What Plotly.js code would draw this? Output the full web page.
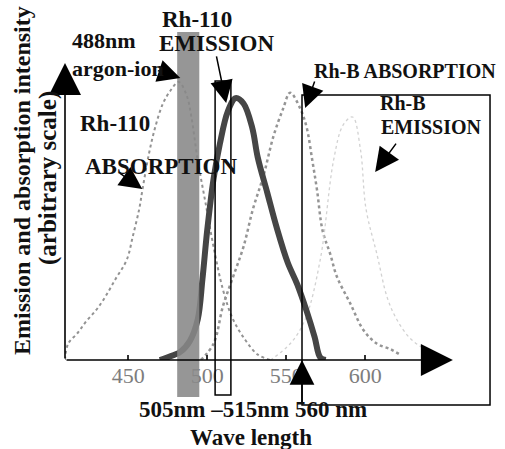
<!DOCTYPE html>
<html>
<head>
<meta charset="utf-8">
<script src="https://cdn.plot.ly/plotly-3.0.1.min.js"></script>
<style>
  html, body { margin: 0; padding: 0; background: #fff; }
  #chart { width: 505px; height: 449px; }
</style>
</head>
<body>
<div id="chart"></div>
<script>
// Wavelength axis ticks (nm)
const tickWavelengths = [450, 500, 550, 600];

// Rh-110 absorption spectrum (arbitrary units)
const rh110AbsNm  = [410, 412, 418, 423, 429, 434, 442, 449, 453, 457, 459, 463, 467, 472, 477, 482, 487, 490, 494, 499, 504, 510, 516, 524, 532, 540];
const rh110AbsVal = [0, 0.06, 0.10, 0.14, 0.18, 0.22, 0.30, 0.37, 0.46, 0.56, 0.63, 0.76, 0.86, 0.95, 1.00, 1.03, 0.98, 0.90, 0.74, 0.58, 0.42, 0.26, 0.155, 0.075, 0.02, 0];

// Rh-110 emission spectrum
const rh110EmNm  = [470, 475, 483, 489, 494, 497, 500, 504, 508, 513, 518, 523, 528.5, 532, 538, 544, 551, 557, 563, 568, 571.5, 575];
const rh110EmVal = [0, 0.01, 0.03, 0.07, 0.15, 0.30, 0.48, 0.67, 0.80, 0.92, 0.97, 0.95, 0.86, 0.75, 0.62, 0.49, 0.36, 0.28, 0.18, 0.085, 0.01, 0];

// Rhodamine B absorption spectrum
const rhBAbsNm  = [496, 504, 510, 516.5, 523, 529, 535.5, 542, 548, 552.5, 559, 563, 566.5, 569.5, 573, 578, 582, 590.5, 599, 607.5, 616, 622];
const rhBAbsVal = [0, 0.06, 0.20, 0.31, 0.42, 0.56, 0.68, 0.83, 0.93, 0.99, 0.93, 0.86, 0.74, 0.63, 0.48, 0.39, 0.31, 0.21, 0.11, 0.06, 0.04, 0.02];

// Rhodamine B emission spectrum
const rhBEmNm  = [540, 552.5, 562, 571.5, 580, 586, 592, 597, 600.5, 607.5, 614, 620, 628.5, 638, 650];
const rhBEmVal = [0, 0.06, 0.15, 0.37, 0.74, 0.87, 0.90, 0.78, 0.56, 0.39, 0.23, 0.15, 0.08, 0.04, 0.01];

// Excitation line and filter windows (nm)
const argonLineNm = 488;
const bandPassNm = [505, 515];
const longPassNm = 560;
const longPassEndNm = 679;

const SERIF = 'Liberation Serif, Times New Roman, serif';
const W = 505, H = 449;
const M = { l: 65, r: 10, t: 63, b: 89 };
const PW = W - M.l - M.r, PH = H - M.t - M.b;
const px = x => (x - M.l) / PW;         // page x -> paper
const py = y => (H - M.b - y) / PH;     // page y -> paper

function label(text, cx, cy, size, extra) {
  return Object.assign({
    xref: 'paper', yref: 'paper', x: px(cx), y: py(cy),
    xanchor: 'center', yanchor: 'middle', showarrow: false,
    text: '<b>' + text + '</b>',
    font: { family: SERIF, size: size, color: '#111' }
  }, extra || {});
}

function pointer(xNm, yVal, ax, ay, size) {
  return {
    xref: 'x', yref: 'y', x: xNm, y: yVal, ax: ax, ay: ay,
    text: '', showarrow: true, arrowhead: 2, arrowsize: size,
    arrowwidth: 1.5, arrowcolor: '#000'
  };
}

const traces = [
  { x: rh110AbsNm, y: rh110AbsVal, mode: 'lines', name: 'Rh-110 absorption',
    line: { color: '#939393', width: 2, dash: 'dot', shape: 'spline' } },
  { x: rhBAbsNm, y: rhBAbsVal, mode: 'lines', name: 'Rh-B absorption',
    line: { color: '#959595', width: 2.5, dash: 'dot', shape: 'spline' } },
  { x: rhBEmNm, y: rhBEmVal, mode: 'lines', name: 'Rh-B emission',
    line: { color: '#d2d2d2', width: 1.3, dash: 'dot', shape: 'spline' } },
  { x: rh110EmNm, y: rh110EmVal, mode: 'lines', name: 'Rh-110 emission',
    line: { color: '#454545', width: 6, shape: 'spline' } },
  { x: [(bandPassNm[0] + bandPassNm[1]) / 2], y: [-0.093], mode: 'markers',
    name: 'band-pass', cliponaxis: false,
    marker: { symbol: 'star-diamond', size: 17, color: '#000' } }
];

const shapes = [
  // argon-ion excitation line
  { type: 'rect', xref: 'x', yref: 'paper', layer: 'above',
    x0: argonLineNm - 7, x1: argonLineNm + 7, y0: py(397), y1: py(32),
    fillcolor: '#888888', opacity: 0.88, line: { width: 0 } },
  // 505-515 nm band-pass window
  { type: 'rect', xref: 'x', yref: 'paper', layer: 'above',
    x0: bandPassNm[0], x1: bandPassNm[1], y0: py(395), y1: py(81),
    line: { color: '#000', width: 1.5 } },
  // 560 nm long-pass window
  { type: 'rect', xref: 'x', yref: 'paper', layer: 'above',
    x0: longPassNm, x1: longPassEndNm, y0: py(405), y1: py(95),
    line: { color: '#000', width: 1.5 } }
];

const annotations = [
  // axes with arrow heads
  { xref: 'x', yref: 'y', axref: 'x', ayref: 'y', x: 410, y: 1.1, ax: 410, ay: 0,
    text: '', showarrow: true, arrowhead: 2, arrowsize: 4, arrowwidth: 1.6, arrowcolor: '#000' },
  { xref: 'x', yref: 'y', axref: 'x', ayref: 'y', x: 655.5, y: 0, ax: 410, ay: 0,
    text: '', showarrow: true, arrowhead: 2, arrowsize: 4, arrowwidth: 1.6, arrowcolor: '#000' },

  // pointers
  pointer(argonLineNm - 5, 1.044, -24, -8, 3),
  pointer(512, 0.952, -10, -48, 3),
  pointer(458.9, 0.633, -24, -17, 3),
  pointer(562, 0.933, 10, -28, 3),
  pointer(606.3, 0.696, 22, -30, 3.2),
  pointer(longPassNm, 0, 0, 45, 3.3),

  // text
  label('Rh-110', 197, 19, 23),
  label('EMISSION', 216, 44, 23),
  label('488nm', 104, 40, 22),
  label('argon-ion', 118, 68, 22),
  label('Rh-110', 115, 123, 23),
  label('ABSORPTION', 161, 166, 23),
  label('Rh-B ABSORPTION', 405, 71, 20),
  label('Rh-B', 403, 103, 20),
  label('EMISSION', 431, 127, 20),
  label('505nm \u2013515nm 560 nm', 253, 410, 23),
  label('Wave length', 251, 437, 23),
  label('Emission and absorption intensity', 22, 181, 24, { textangle: -90 }),
  label('(arbitrary scale)', 48, 178, 25, { textangle: -90 })
];

const layout = {
  width: W, height: H,
  margin: M,
  paper_bgcolor: '#fff', plot_bgcolor: '#fff',
  showlegend: false,
  xaxis: {
    range: [410, 410 + PW / 1.58],
    tickmode: 'array', tickvals: tickWavelengths,
    ticktext: tickWavelengths.map(String),
    ticks: 'inside', ticklen: 5, tickwidth: 1.5, tickcolor: '#333',
    showline: false, showgrid: false, zeroline: false,
    tickfont: { family: SERIF, size: 22, color: '#7d7d7d' }
  },
  yaxis: {
    range: [0, 1.1],
    showticklabels: false, ticks: '', showline: false,
    showgrid: false, zeroline: false
  },
  shapes: shapes,
  annotations: annotations
};

Plotly.newPlot('chart', traces, layout, { staticPlot: true, displayModeBar: false });
</script>
</body>
</html>
